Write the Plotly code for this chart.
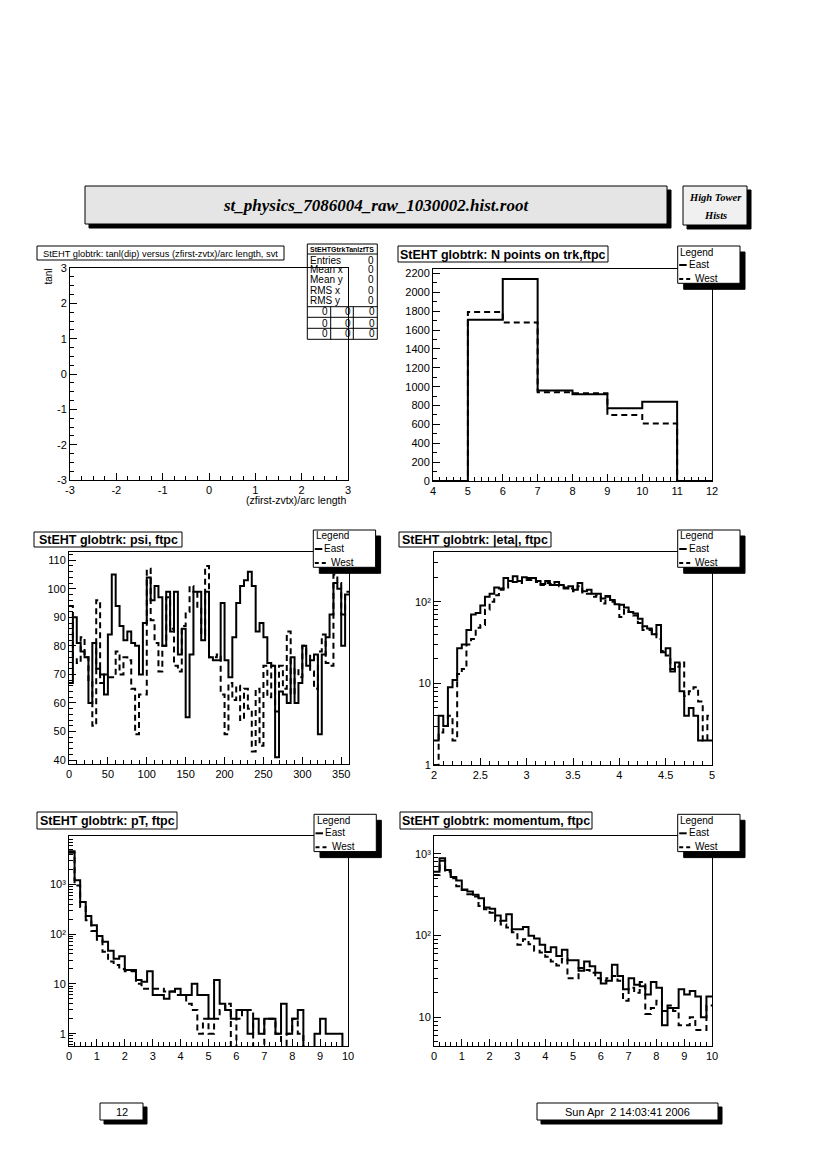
import plotly.graph_objects as go
import math

W, H = 826, 1170
def px(x): return x / W
def py(y): return 1 - y / H

# ---------------- data ----------------
npts_edges = [4, 5, 6, 7, 8, 9, 10, 11, 12]
npts_east = [0, 1710, 2140, 960, 920, 770, 840, 0]
npts_west = [0, 1790, 1680, 940, 930, 700, 610, 0]

psi_edges = [5 * i for i in range(73)]
psi_east = [67, 90, 81, 78, 76, 60, 81, 72, 70, 63, 84, 105,
            94, 87, 82, 85, 81, 80, 70, 88, 104, 96, 101, 97,
            80, 99, 85, 99, 77, 86, 55, 77, 99, 99, 82, 99,
            76, 75, 75, 95, 75, 69, 83, 95, 101, 103, 106, 101,
            85, 88, 83, 74, 73, 41, 64, 63, 60, 76, 60, 67,
            80, 73, 75, 77, 49, 77, 83, 91, 102, 100, 80, 98]
psi_west = [94, 76, 74, 83, 76, 68, 52, 96, 67, 70, 69, 69,
            78, 70, 76, 75, 65, 49, 63, 63, 107, 89, 81, 71,
            80, 97, 86, 73, 71, 87, 92, 101, 99, 93, 84, 108,
            76, 76, 77, 63, 49, 67, 61, 66, 54, 65, 58, 43,
            65, 45, 73, 62, 73, 57, 73, 65, 85, 63, 72, 69,
            80, 77, 71, 65, 78, 84, 74, 73, 105, 102, 91, 99]

eta_edges = [2 + 0.05 * i for i in range(61)]
eta_east = [2, 4, 3, 9, 11, 27, 30, 45, 70, 73, 90, 115, 125, 150, 145,
            195, 180, 205, 180, 200, 195, 195, 180, 165, 180, 160, 175, 160, 145, 155,
            140, 170, 135, 140, 125, 125, 110, 118, 105, 93, 92, 85, 75, 72, 62,
            50, 47, 40, 52, 24, 27, 14, 18, 8, 4, 5, 4, 2, 2, 2]
eta_west = [1, 2.5, 3, 4, 2, 13, 15, 30, 35, 48, 52, 80, 100, 120, 140,
            150, 170, 175, 170, 190, 185, 190, 175, 160, 170, 165, 160, 155, 150, 145,
            135, 155, 130, 125, 115, 120, 95, 115, 100, 95, 65, 80, 75, 68, 55,
            45, 45, 40, 35, 25, 22, 15, 16, 18, 7, 8, 9, 6, 2, 4]

pt_edges = [0.2 * i for i in range(51)]
pt_east = [4600, 1200, 440, 230, 150, 92, 70, 46, 32, 36,
           19, 19, 12, 11, 18, 6, 6, 5, 7, 8,
           6, 6, 10, 6, 6, 2, 12, 4, 3, 2,
           3, 3, 1, 2, 1, 2, 2, 1, 4, 1,
           2, 3, 0, 0, 1, 2, 1, 1, 1, 0]
pt_west = [4300, 950, 350, 190, 115, 77, 44, 28, 24, 20,
           18, 18, 10, 8, 8, 8, 8, 7, 7, 6,
           6, 4, 3, 1, 2, 1, 2, 3, 4, 0,
           2, 3, 3, 0, 0, 2, 2, 1, 0, 1,
           2, 1, 0, 0, 0, 0, 0, 0, 0, 0]

mom_edges = [0.2 * i for i in range(51)]
mom_east = [600, 880, 630, 520, 470, 365, 345, 315, 285, 220,
            212, 176, 152, 182, 119, 119, 127, 99, 92, 77,
            63, 72, 56, 67, 50, 50, 37, 48, 42, 35,
            26, 28, 44, 32, 22, 30, 25, 24, 19, 27,
            23, 8, 13, 13, 22, 19, 21, 18, 10, 18]
mom_west = [550, 820, 600, 500, 400, 360, 320, 300, 230, 210,
            190, 150, 136, 125, 110, 77, 90, 78, 65, 62,
            55, 48, 43, 52, 30, 30, 40, 38, 35, 30,
            28, 30, 32, 28, 16, 23, 20, 27, 11, 13,
            16, 12, 14, 12, 8, 8, 10, 7, 7, 14]

tanl_ticks = [-3, -2, -1, 0, 1, 2, 3]
tanl_labels = ["-3", "-2", "-1", "0", "1", "2", "3"]
log_ticks = [1, 10, 100, 1000]
log_labels = ["1", "10", "10\u00b2", "10\u00b3"]

# ---------------- figure ----------------
FONT = "Liberation Sans"
fig = go.Figure()

def step(edges, vals, ax, dash=None, log=False):
    ys = list(vals) + [vals[-1]]
    if log:
        ys = [v if v > 0 else 1e-3 for v in ys]
    fig.add_trace(go.Scatter(
        x=list(edges), y=ys, mode="lines", line_shape="hv",
        line=dict(color="black", width=2, dash=dash),
        xaxis="x" + ax, yaxis="y" + ax, showlegend=False, hoverinfo="skip"))

DASH = "6px,4px"
step(npts_edges, npts_west, "2", dash=DASH)
step(npts_edges, npts_east, "2")
step(psi_edges, psi_west, "3", dash=DASH)
step(psi_edges, psi_east, "3")
step(eta_edges, eta_west, "4", dash=DASH, log=True)
step(eta_edges, eta_east, "4", log=True)
step(pt_edges, pt_west, "5", dash=DASH, log=True)
step(pt_edges, pt_east, "5", log=True)
step(mom_edges, mom_west, "6", dash=DASH, log=True)
step(mom_edges, mom_east, "6", log=True)
fig.add_trace(go.Scatter(x=[None], y=[None], xaxis="x", yaxis="y", showlegend=False,
                         hoverinfo="skip"))

frames = {
    "1": (70, 348, 268, 480),
    "2": (433, 712, 269, 481),
    "3": (69, 349, 552, 764),
    "4": (434, 712, 552, 765),
    "5": (69, 348, 836, 1046),
    "6": (434, 712, 836, 1046),
}

def base_axis():
    return dict(showline=True, linecolor="black", linewidth=1, mirror=True,
                ticks="inside", ticklen=7, tickwidth=1, tickcolor="black",
                showgrid=False, zeroline=False, automargin=False, fixedrange=True,
                tickfont=dict(family=FONT, size=11, color="black"))

def minor(dt=None, vals=None):
    d = dict(ticks="inside", ticklen=4, tickwidth=1, tickcolor="black", showgrid=False)
    if dt is not None:
        d["dtick"] = dt
    if vals is not None:
        d["tickvals"] = vals
    return d

def logminor(lo, hi):
    out = []
    dec = 10.0 ** (math.floor(lo) - 1)
    while dec < 10 ** (hi + 1):
        for m in range(2, 10):
            v = m * dec
            if 10 ** lo <= v <= 10 ** hi:
                out.append(v)
        dec *= 10
    return out

def logaxis(lo, hi):
    vals = [v for v in log_ticks if 10 ** lo <= v * 1.0001 and v <= 10 ** hi]
    txt = [log_labels[log_ticks.index(v)] for v in vals]
    return dict(type="log", range=[lo, hi], tickmode="array", tickvals=vals,
                ticktext=txt, minor=minor(vals=logminor(lo, hi)))

axes = {}
axes["1"] = (dict(range=[-3, 3], tickmode="array", tickvals=tanl_ticks, ticktext=tanl_labels,
                  minor=minor(0.25)),
             dict(range=[-3, 3], tickmode="array", tickvals=tanl_ticks, ticktext=tanl_labels,
                  minor=minor(0.25)))
axes["2"] = (dict(range=[4, 12], tick0=4, dtick=1, minor=minor(0.2)),
             dict(range=[0, 2247], tick0=0, dtick=200, minor=minor(100)))
axes["3"] = (dict(range=[0, 360], tick0=0, dtick=50, minor=minor(10)),
             dict(range=[38.6, 112.9], tick0=40, dtick=10, minor=minor(2)))
axes["4"] = (dict(range=[2, 5], tick0=2, dtick=0.5, minor=minor(0.1)), logaxis(0, 2.61))
axes["5"] = (dict(range=[0, 10], tick0=0, dtick=1, minor=minor(0.2)), logaxis(-0.248, 3.97))
axes["6"] = (dict(range=[0, 10], tick0=0, dtick=1, minor=minor(0.2)), logaxis(0.65, 3.216))

layout = dict(width=W, height=H, autosize=False,
              margin=dict(l=0, r=0, t=0, b=0, pad=0, autoexpand=False),
              paper_bgcolor="white", plot_bgcolor="rgba(0,0,0,0)",
              showlegend=False, hovermode=False)
for k, (x0, x1, y0, y1) in frames.items():
    xa, ya = axes[k]
    xd = base_axis(); xd.update(xa)
    yd = base_axis(); yd.update(ya)
    xd["domain"] = [px(x0), px(x1)]
    yd["domain"] = [py(y1), py(y0)]
    sfx = "" if k == "1" else k
    xd["anchor"] = "y" + sfx
    yd["anchor"] = "x" + sfx
    layout["xaxis" + sfx] = xd
    layout["yaxis" + sfx] = yd
fig.update_layout(**layout)

shapes = []
annos = []

def rect(x0, y0, x1, y1, fill="white", line="black", lw=1, layer="above"):
    shapes.append(dict(type="rect", xref="paper", yref="paper",
                       x0=px(x0), x1=px(x1), y0=py(y1), y1=py(y0),
                       fillcolor=fill, line=dict(color=line, width=lw), layer=layer))

def seg(x0, y0, x1, y1, lw=1, dash=None, layer="above"):
    shapes.append(dict(type="line", xref="paper", yref="paper",
                       x0=px(x0), x1=px(x1), y0=py(y0), y1=py(y1),
                       line=dict(color="black", width=lw, dash=dash), layer=layer))

def text(x, y, s, size=10, xa="center", ya="middle", bold=False, italic=False,
         family=FONT, angle=0):
    annos.append(dict(xref="paper", yref="paper", x=px(x), y=py(y), text=s,
                      showarrow=False, xanchor=xa, yanchor=ya, textangle=angle,
                      borderpad=0,
                      font=dict(family=family, size=size, color="black",
                                weight="bold" if bold else "normal",
                                style="italic" if italic else "normal")))

def shadow_box(x0, y0, x1, y1, off=4, fill="white", layer="above"):
    rect(x0 + off, y0 + off, x1 + off, y1 + off, fill="black", line="black", layer=layer)
    rect(x0, y0, x1, y1, fill=fill, layer=layer)

# top title boxes
shadow_box(85, 186, 667, 224, off=4, fill="#e5e5e5")
text(376, 205, "st_physics_7086004_raw_1030002.hist.root", size=17, bold=True,
     italic=True, family="Liberation Serif")
shadow_box(683, 186, 747, 225, off=4, fill="#f0f0f0")
text(715, 197, "High Tower", size=10.5, bold=True, italic=True, family="Liberation Serif")
text(715, 215, "Hists", size=10.5, bold=True, italic=True, family="Liberation Serif")

# panel titles
def title_box(x0, y0, x1, y1, s, size=12.5, bold=True):
    rect(x0, y0, x1, y1)
    text((x0 + x1) / 2, (y0 + y1) / 2 + 0.5, s, size=size, bold=bold)

title_box(37, 246, 284, 260, "StEHT globtrk: tanl(dip) versus (zfirst-zvtx)/arc length, svt",
          size=9.3, bold=False)
title_box(398, 246, 608, 262, "StEHT globtrk: N points on trk,ftpc")
title_box(34, 532, 182, 547, "StEHT globtrk: psi, ftpc")
title_box(399, 532, 551, 547, "StEHT globtrk: |eta|, ftpc")
title_box(37, 812, 177, 829, "StEHT globtrk: pT, ftpc")
title_box(400, 812, 592, 829, "StEHT globtrk: momentum, ftpc")

# panel 1 axis titles
text(48.5, 268, "tanl", size=10, xa="center", ya="top", angle=-90)
text(348, 500, "(zfirst-zvtx)/arc length", size=10.5, xa="right")

# stats box (drawn under the frame)
sx0, sx1, sy0, sy1 = 307.3, 377.3, 244, 339.3
rect(sx0, sy0, sx1, sy1, layer="below")
seg(sx0, 254, sx1, 254, layer="below")
text((sx0 + sx1) / 2, 249, "StEHTGtrkTanlzfTS", size=7, bold=True)
for lab, yy in [("Entries", 260), ("Mean x", 269.5), ("Mean y", 279.5),
                ("RMS x", 290.5), ("RMS y", 301)]:
    text(sx0 + 2, yy, lab, size=10, xa="left")
    text(sx1 - 2, yy, "0", size=10, xa="right")
for yy in [306.7, 317.3, 328.3]:
    seg(sx0, yy, sx1, yy, layer="below")
for xx in [330.7, 353.3]:
    seg(xx, 306.7, xx, sy1, layer="below")
for yy in [312, 323, 333.8]:
    for xx in [328.5, 351.5, 375.5]:
        text(xx, yy, "0", size=10, xa="right")

# legends
def legend(x0, y0):
    rect(x0 + 6, y0 + 6, x0 + 67.3, y0 + 43.3, fill="black")
    rect(x0, y0, x0 + 62.3, y0 + 37.3)
    text(x0 + 1.5, y0 + 6, "Legend", size=10, xa="left")
    seg(x0 + 1.5, y0 + 19, x0 + 9, y0 + 19, lw=2)
    text(x0 + 10, y0 + 18.5, "East", size=10, xa="left")
    seg(x0 + 1.5, y0 + 33, x0 + 15, y0 + 33, lw=2, dash="4px,3px")
    text(x0 + 16.5, y0 + 32.5, "West", size=10, xa="left")

legend(677.7, 246)
legend(313.3, 530)
legend(677.7, 530)
legend(314, 814.3)
legend(677.7, 814.3)

# footer
shadow_box(100, 1103, 143, 1120, off=4)
text(121.5, 1111.5, "12", size=11)
shadow_box(537, 1103, 718, 1120, off=4)
text(627.5, 1111.5, "Sun Apr  2 14:03:41 2006", size=11)

fig.update_layout(shapes=shapes, annotations=annos)
fig.write_html("out.html",
               config={"displayModeBar": False, "staticPlot": True},
               post_script="document.body.style.margin='0px';"
                           "document.body.style.overflow='hidden';")
